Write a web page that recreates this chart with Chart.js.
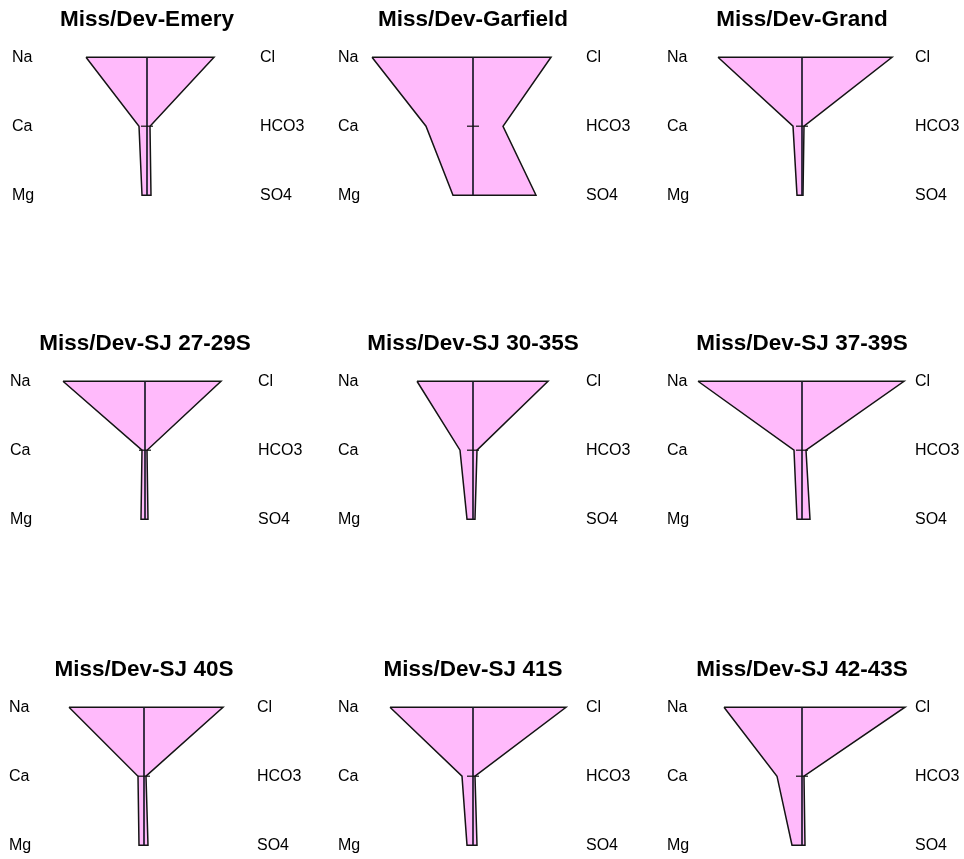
<!DOCTYPE html>
<html>
<head>
<meta charset="utf-8">
<script src="https://cdn.jsdelivr.net/npm/chart.js@4.4.1/dist/chart.umd.min.js"></script>
<style>
  html, body { margin: 0; padding: 0; background: #fff; overflow: hidden; }
  #wrap { position: relative; width: 964px; height: 859px; overflow: hidden; }
  .cell { position: absolute; }
</style>
</head>
<body>
<div id="wrap"></div>
<script>
// Stiff diagrams, one per area (widths, same scale everywhere)
const sites = ['Miss/Dev-Emery', 'Miss/Dev-Garfield', 'Miss/Dev-Grand',
  'Miss/Dev-SJ 27-29S', 'Miss/Dev-SJ 30-35S', 'Miss/Dev-SJ 37-39S',
  'Miss/Dev-SJ 40S', 'Miss/Dev-SJ 41S', 'Miss/Dev-SJ 42-43S'];
const cations = ['Na', 'Ca', 'Mg'];
const anions = ['Cl', 'HCO3', 'SO4'];

const naVals   = [61, 101, 84, 82, 56, 104, 75, 83, 78];
const caVals   = [8, 47, 9, 3, 13, 8, 6, 11, 25];
const mgVals   = [5, 20, 5, 4, 6, 5, 5, 6, 10];
const clVals   = [67, 78, 90, 76, 75, 102, 79, 93, 103];
const hco3Vals = [3, 30, 2, 2, 4, 4, 2, 2, 2];
const so4Vals  = [4, 63, 1, 3, 2, 8, 4, 4, 3];

// where each little chart sits on the page (centre line x, top y)
const cellPos = [[147, 0], [473, 0], [802, 0],
  [145, 324], [473, 324], [802, 324],
  [144, 650], [473, 650], [802, 650]];

const wrap = document.getElementById('wrap');
const labelFont = { family: "'Liberation Sans', Arial, sans-serif", size: 16 };
const rows = [0, 1, 2];

sites.forEach((site, i) => {
  const canvas = document.createElement('canvas');
  canvas.width = 320;
  canvas.height = 225;
  canvas.className = 'cell';
  canvas.style.left = (cellPos[i][0] - 160) + 'px';
  canvas.style.top = cellPos[i][1] + 'px';
  wrap.appendChild(canvas);

  // polygon: cations to the left, anions to the right, closed back to Na
  const shape = [
    { x: -naVals[i], y: 0 }, { x: -caVals[i], y: 1 }, { x: -mgVals[i], y: 2 },
    { x: so4Vals[i], y: 2 }, { x: hco3Vals[i], y: 1 }, { x: clVals[i], y: 0 },
    { x: -naVals[i], y: 0 }
  ];

  new Chart(canvas.getContext('2d'), {
    type: 'scatter',
    data: {
      datasets: [
        {
          data: shape,
          showLine: true,
          fill: 'shape',
          backgroundColor: '#ffbafb',
          borderColor: '#141414',
          borderWidth: 1.5,
          pointRadius: 0,
          clip: false,
          order: 2
        },
        {
          // centre line
          data: [{ x: 0, y: 0 }, { x: 0, y: 2 }],
          showLine: true,
          borderColor: '#1c1c2a',
          borderWidth: 1.7,
          pointRadius: 0,
          clip: false,
          order: 1
        },
        {
          // small tick on the centre line at the Ca / HCO3 row
          data: [{ x: -6, y: 1 }, { x: 6, y: 1 }],
          showLine: true,
          borderColor: '#111',
          borderWidth: 1.2,
          pointRadius: 0,
          clip: false,
          order: 0
        }
      ]
    },
    options: {
      responsive: false,
      animation: false,
      events: [],
      layout: { padding: { left: 25, right: 0, top: 0, bottom: 0 } },
      plugins: {
        legend: { display: false },
        tooltip: { enabled: false },
        title: {
          display: true,
          fullSize: false,
          text: site,
          color: '#000',
          font: { family: "'Liberation Sans', Arial, sans-serif", size: 22.5, weight: 'bold' },
          padding: { top: 6.5, bottom: 6.5 }
        }
      },
      scales: {
        x: { type: 'linear', min: -110, max: 110, display: false },
        y: {
          type: 'linear',
          position: 'left',
          min: -0.25,
          max: 2.25,
          reverse: true,
          grid: { display: false, drawTicks: false },
          border: { display: false },
          afterBuildTicks: (ax) => { ax.ticks = rows.map(v => ({ value: v })); },
          afterFit: (ax) => { ax.width = 25; },
          ticks: { crossAlign: 'far', padding: 0, color: '#000', font: labelFont,
            callback: (v) => cations[v] }
        },
        y2: {
          type: 'linear',
          position: 'right',
          min: -0.25,
          max: 2.25,
          reverse: true,
          grid: { display: false, drawTicks: false },
          border: { display: false },
          afterBuildTicks: (ax) => { ax.ticks = rows.map(v => ({ value: v })); },
          afterFit: (ax) => { ax.width = 50; },
          ticks: { padding: 3, color: '#000', font: labelFont,
            callback: (v) => anions[v] }
        }
      }
    }
  });
});
</script>
</body>
</html>
